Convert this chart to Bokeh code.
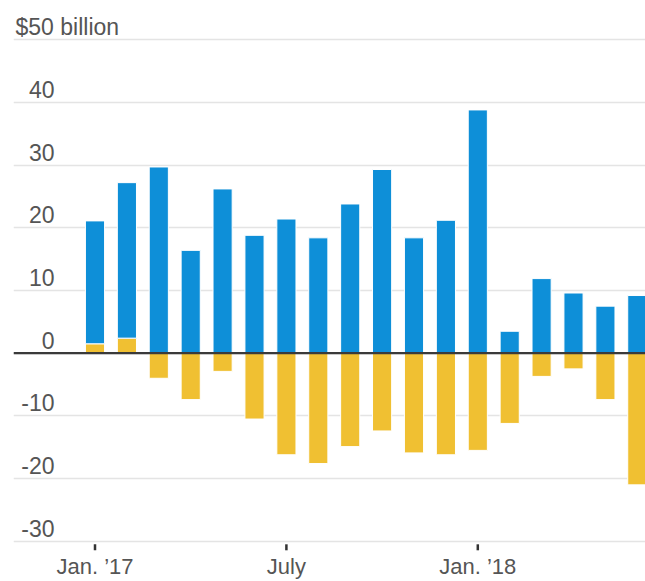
from bokeh.plotting import figure
from bokeh.models import Range1d, FixedTicker, Span, ColumnDataSource
from bokeh.core.properties import value
from bokeh.embed import file_html
from bokeh.resources import INLINE

# ---- data ----
months = ["Jan 2017", "Feb 2017", "Mar 2017", "Apr 2017", "May 2017", "Jun 2017",
          "Jul 2017", "Aug 2017", "Sep 2017", "Oct 2017", "Nov 2017", "Dec 2017",
          "Jan 2018", "Feb 2018", "Mar 2018", "Apr 2018", "May 2018", "Jun 2018"]
# blue segment (stacked on top of positive yellow)
blue = [19.6, 24.8, 29.7, 16.4, 26.2, 18.8, 21.4, 18.4, 23.8, 29.3, 18.4, 21.2,
        38.8, 3.5, 11.9, 9.6, 7.5, 9.2]
yellow = [1.5, 2.4, -4.0, -7.4, -2.9, -10.5, -16.2, -17.6, -14.9, -12.4, -15.9, -16.2,
          -15.5, -11.2, -3.7, -2.5, -7.4, -21.0]
y_ticks = [-30, -20, -10, 0, 10, 20, 30, 40, 50]
y_tick_labels = ["-30", "-20", "-10", "0", "10", "20", "30", "40", "$50 billion"]
x_ticks = [0, 6, 12]
x_tick_labels = ["Jan. \u201917", "July", "Jan. \u201918"]

BLUE = "#0e8fd8"
YELLOW = "#f0c032"
TEXT = "#555555"
FONT = "Liberation Sans"

x_idx = list(range(len(months)))
y_top = [max(v, 0) for v in yellow]
y_bot = [min(v, 0) for v in yellow]
b_bottom = y_top
b_top = [b + v for b, v in zip(b_bottom, blue)]

W, H = 645, 581
LEFT = 13
PX = 31.9                      # pixels per month
X0 = -(94.5 - LEFT) / PX
X1 = X0 + (W - LEFT) / PX
PY = 6.27                      # pixels per billion
ZERO = 352.7                   # pixel row of zero
Y1 = ZERO / PY
Y0 = -(H - ZERO) / PY

p = figure(width=W, height=H, output_backend="svg", toolbar_location=None,
           x_range=Range1d(X0, X1), y_range=Range1d(Y0, Y1),
           min_border_left=LEFT, min_border_right=0, min_border_top=0, min_border_bottom=0)
p.outline_line_color = None
p.background_fill_color = "white"
p.border_fill_color = "white"
p.xaxis.visible = False
p.yaxis.visible = False

p.xgrid.visible = False
p.ygrid.ticker = FixedTicker(ticks=y_ticks)
p.ygrid.grid_line_color = "#e4e4e4"
p.ygrid.grid_line_width = 1.5

src = ColumnDataSource(dict(x=x_idx, yb=y_bot, yt=y_top, bb=b_bottom, bt=b_top))
p.vbar(x="x", bottom="yb", top="yt", width=0.6, source=src,
       fill_color=YELLOW, line_color="white", line_width=1)
p.vbar(x="x", bottom="bb", top="bt", width=0.6, source=src,
       fill_color=BLUE, line_color="white", line_width=1)

p.add_layout(Span(location=0, dimension="width", line_color="#3a3a3a", line_width=2.2))

# x ticks (short dark marks below the lowest gridline) and their labels
tick_y0 = y_ticks[0] - 3 / PY
tick_y1 = y_ticks[0] - 9 / PY
p.segment(x0=x_ticks, x1=x_ticks, y0=[tick_y0] * len(x_ticks), y1=[tick_y1] * len(x_ticks),
          line_color="#333333", line_width=2.5)
p.text(x=x_ticks, y=[Y0] * len(x_ticks), text=x_tick_labels,
       text_align="center", text_baseline="middle", y_offset=-15,
       text_font=value(FONT), text_font_size="22px", text_color=TEXT)

# y tick labels above the gridlines
lab_x = X0 + 41 / PX
p.text(x=[lab_x] * (len(y_ticks) - 1), y=y_ticks[:-1], text=y_tick_labels[:-1],
       text_align="right", text_baseline="middle", y_offset=-13,
       text_font=value(FONT), text_font_size="23px", text_color=TEXT)
p.text(x=[X0 + 2 / PX], y=[y_ticks[-1]], text=[y_tick_labels[-1]],
       text_align="left", text_baseline="middle", y_offset=-13,
       text_font=value(FONT), text_font_size="23px", text_color=TEXT)

open("out.html", "w").write(file_html(p, INLINE))
